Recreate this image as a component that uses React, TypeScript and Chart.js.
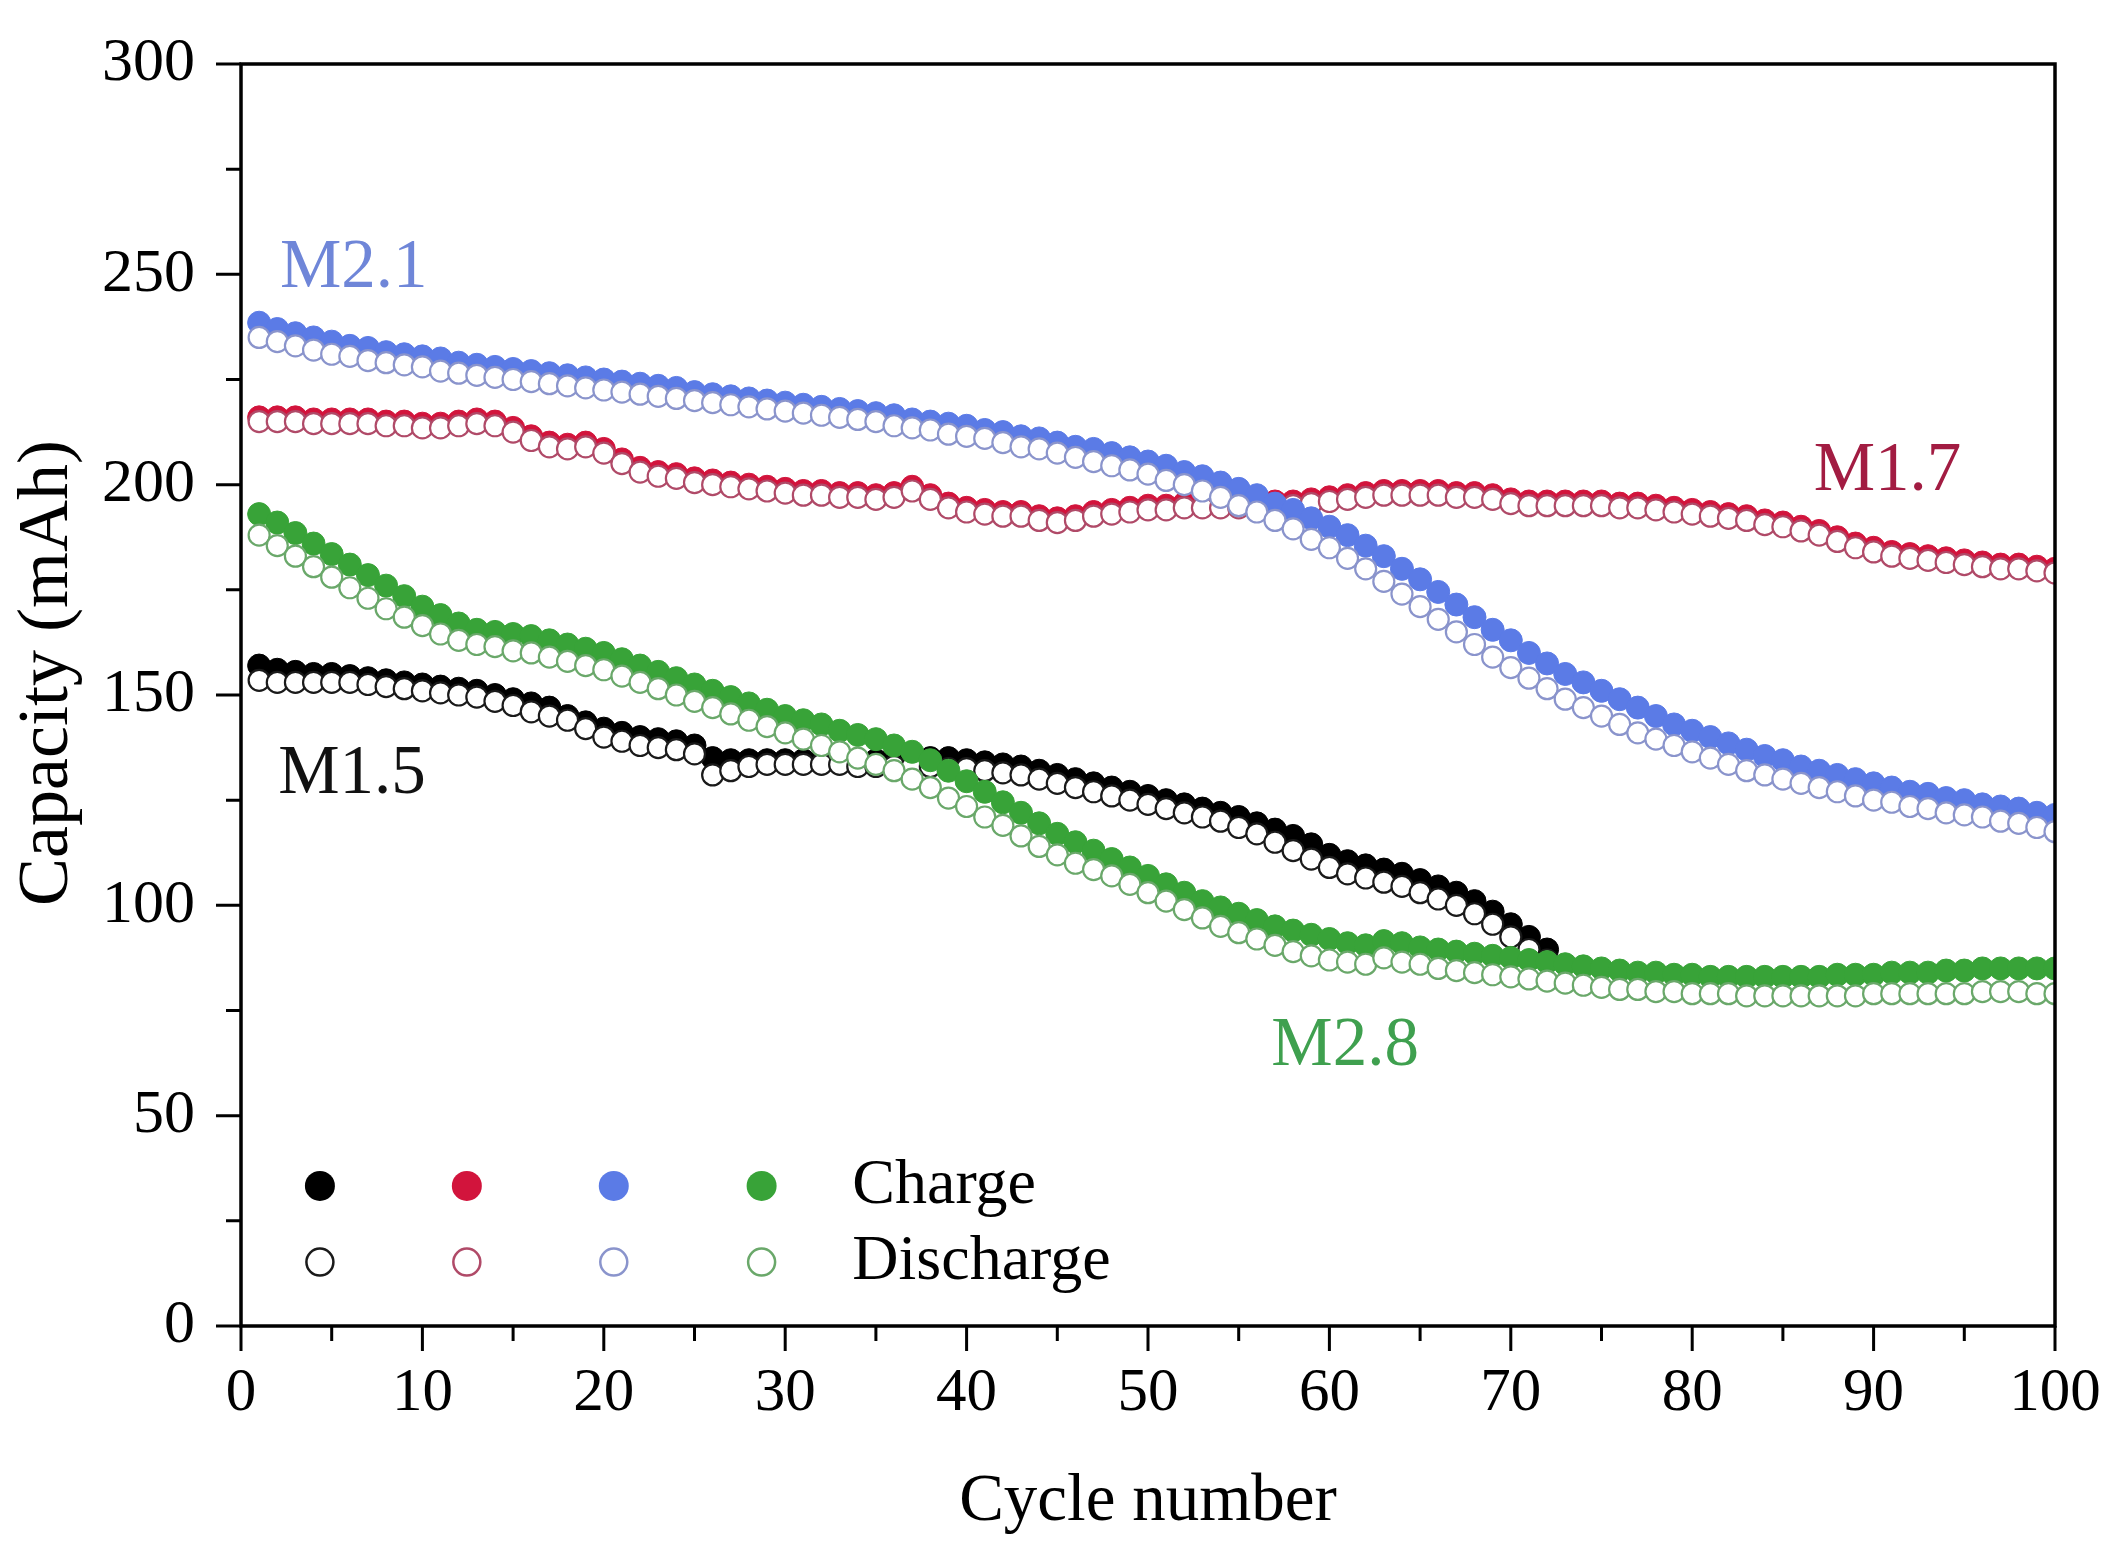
import React, { useEffect, useRef } from "react";
import { Chart, registerables } from "chart.js";
Chart.register(...registerables);

const FONT = "'Liberation Serif', 'Times New Roman', serif";

// cycle numbers 1..100
const cycles: number[] = Array.from({ length: 100 }, (_, i) => i + 1);

const m15Charge = [
  157, 156, 155.5, 155, 155, 154.5, 154, 153.5, 153, 152.5,
  152, 151.5, 151, 150, 149, 148, 147, 145, 143.5, 142,
  141, 140, 139.5, 139, 138, 135, 134.5, 134.5, 134.5, 134.5,
  134.5, 134.5, 134.5, 134.5, 134.5, 134.5, 135, 135, 135, 134.5,
  134, 133.5, 133, 132, 131, 130, 129, 128, 127, 126,
  125, 124, 123, 122, 121, 119.5, 118, 116.5, 114.5, 112,
  110.5, 109.5, 108.5, 107.5, 106, 104.5, 103, 101, 98.5, 95.5,
  92.5, 89.5,
];
const m15Discharge = [
  153.5, 153, 153, 153, 153, 153, 152.5, 152, 151.5, 151,
  150.5, 150, 149.5, 148.5, 147.5, 146, 145, 144, 142, 140,
  139, 138, 137.5, 137, 136, 131, 132, 133, 133.5, 133.5,
  133.5, 133.5, 133.5, 133, 133, 133, 133, 133, 132.5, 132.5,
  132, 131.5, 131, 130, 129, 128, 127, 126, 125, 124,
  123, 122, 121, 120, 118.5, 117, 115, 113, 111, 109,
  107.5, 106.5, 105.5, 104.5, 103, 101.5, 100, 98, 95.5, 92.5,
  89.5, 87,
];
const m17Charge = [
  216, 216, 216, 215.5, 215.5, 215.5, 215.5, 215, 215, 214.5,
  214.5, 215, 215.5, 215, 213.5, 211.5, 210, 209.5, 210, 208.5,
  206, 204, 203, 202.5, 201.5, 201, 200.5, 200, 199.5, 199,
  198.5, 198.5, 198, 198, 197.5, 198, 199.5, 197.5, 195.5, 194.5,
  194, 193.5, 193.5, 192.5, 192, 192.5, 193.5, 194, 194.5, 195,
  195, 195.5, 195.5, 195.5, 195.5, 195.5, 196, 196, 196.5, 197,
  197.5, 198, 198.5, 198.5, 198.5, 198.5, 198, 198, 197.5, 196.5,
  196, 196, 196, 196, 196, 195.5, 195.5, 195, 194.5, 194,
  193.5, 193, 192.5, 191.5, 191, 190, 189, 187.5, 186, 185,
  184, 183.5, 183, 182.5, 182, 181.5, 181, 181, 180.5, 180,
];
const m17Discharge = [
  215, 215, 215, 214.5, 214.5, 214.5, 214.5, 214, 214, 213.5,
  213.5, 214, 214.5, 214, 212.5, 210.5, 209, 208.5, 209, 207.5,
  205, 203, 202, 201.5, 200.5, 200, 199.5, 199, 198.5, 198,
  197.5, 197.5, 197, 197, 196.5, 197, 198.5, 196.5, 194.5, 193.5,
  193, 192.5, 192.5, 191.5, 191, 191.5, 192.5, 193, 193.5, 194,
  194, 194.5, 194.5, 194.5, 194.5, 194.5, 195, 195, 195.5, 196,
  196.5, 197, 197.5, 197.5, 197.5, 197.5, 197, 197, 196.5, 195.5,
  195, 195, 195, 195, 195, 194.5, 194.5, 194, 193.5, 193,
  192.5, 192, 191.5, 190.5, 190, 189, 188, 186.5, 185, 184,
  183, 182.5, 182, 181.5, 181, 180.5, 180, 180, 179.5, 179,
];
const m21Charge = [
  238.5, 237, 236, 235, 234, 233, 232.5, 231.5, 231, 230.5,
  230, 229, 228.5, 228, 227.5, 227, 226.5, 226, 225.5, 225,
  224.5, 224, 223.5, 223, 222, 221.5, 221, 220.5, 220, 219.5,
  219, 218.5, 218, 217.5, 217, 216.5, 215.5, 215, 214.5, 214,
  213, 212.5, 211.5, 211, 210, 209, 208.5, 207.5, 206.5, 205.5,
  204.5, 203, 202, 200.5, 199, 197.5, 195.5, 194, 192, 190,
  188, 185.5, 183, 180, 177.5, 174.5, 171.5, 168.5, 165.5, 163,
  160, 157.5, 155, 153, 151, 149, 147, 145, 143, 141.5,
  140, 138.5, 137, 135.5, 134.5, 133, 132, 131, 130, 129,
  128, 127, 126.5, 125.5, 125, 124, 123.5, 123, 122, 121.5,
];
const m21Discharge = [
  235, 234, 233, 232, 231, 230.5, 229.5, 229, 228.5, 228,
  227, 226.5, 226, 225.5, 225, 224.5, 224, 223.5, 223, 222.5,
  222, 221.5, 221, 220.5, 220, 219.5, 219, 218.5, 218, 217.5,
  217, 216.5, 216, 215.5, 215, 214, 213.5, 213, 212, 211.5,
  211, 210, 209, 208.5, 207.5, 206.5, 205.5, 204.5, 203.5, 202.5,
  201, 200, 198.5, 197, 195, 193.5, 191.5, 189.5, 187, 185,
  182.5, 180, 177, 174, 171, 168, 165, 162, 159, 156.5,
  154, 151.5, 149, 147, 145, 143, 141, 139.5, 138, 136.5,
  135, 133.5, 132, 131, 130, 129, 128, 127, 126, 125,
  124.5, 123.5, 123, 122, 121.5, 121, 120, 119.5, 118.5, 117.5,
];
const m28Charge = [
  193, 191, 188.5, 186, 183.5, 181, 178.5, 176, 173.5, 171,
  169, 167, 165.5, 165, 164.5, 164, 163, 162, 161, 160,
  158.5, 157, 155.5, 154, 152.5, 151, 149.5, 148, 146.5, 145,
  144, 143, 141.5, 140.5, 139.5, 138, 136.5, 134.5, 132, 129.5,
  127, 124.5, 122, 119.5, 117, 115, 113, 111, 109, 107,
  105, 103, 101, 99.5, 98, 96.5, 95, 94, 93, 92,
  91, 90.5, 91.5, 91, 90, 89.5, 89, 88.5, 88, 87.5,
  87, 86.5, 86, 85.5, 85, 84.5, 84, 84, 83.5, 83.5,
  83, 83, 83, 83, 83, 83, 83, 83.5, 83.5, 83.5,
  84, 84, 84, 84.5, 84.5, 85, 85, 85, 85, 85,
];
const m28Discharge = [
  188, 185.5, 183, 180.5, 178, 175.5, 173, 170.5, 168.5, 166.5,
  164.5, 163, 162, 161.5, 160.5, 160, 159, 158, 157, 156,
  154.5, 153, 151.5, 150, 148.5, 147, 145.5, 144, 142.5, 141,
  139.5, 138, 136.5, 135, 133.5, 132, 130, 128, 125.5, 123.5,
  121, 119, 116.5, 114, 112, 110, 108.5, 107, 105, 103,
  101, 99, 97, 95, 93.5, 92, 90.5, 89, 88, 87,
  86.5, 86, 87.5, 86.5, 86, 85, 84.5, 84, 83.5, 83,
  82.5, 82, 81.5, 81, 80.5, 80, 80, 79.5, 79.5, 79,
  79, 79, 78.5, 78.5, 78.5, 78.5, 78.5, 78.5, 78.5, 79,
  79, 79, 79, 79, 79, 79.5, 79.5, 79.5, 79, 79,
];

const xTicks = [0, 10, 20, 30, 40, 50, 60, 70, 80, 90, 100];
const yTicks = [0, 50, 100, 150, 200, 250, 300];

const COLORS = {
  black: "#000000",
  red: "#d2143c",
  blue: "#5b7be6",
  green: "#38a338",
};
const OPEN = {
  black: "#1a1a1a",
  red: "#b04a68",
  blue: "#8a94cc",
  green: "#6aa86a",
};

const annotations = [
  { text: "M2.1", x: 2.15, y: 247, color: "#6f86d8" },
  { text: "M1.7", x: 86.7, y: 198.8, color: "#a21c42" },
  { text: "M1.5", x: 2.05, y: 126.7, color: "#111111" },
  { text: "M2.8", x: 56.8, y: 62, color: "#3fa04f" },
];

const legendColumns = [
  { key: "black", x: 4.35 },
  { key: "red", x: 12.45 },
  { key: "blue", x: 20.55 },
  { key: "green", x: 28.7 },
];
const legendRows = [
  { label: "Charge", y: 33.3, filled: true },
  { label: "Discharge", y: 15.2, filled: false },
];
const legendTextX = 33.7;
const yTitle = { text: "Capacity (mAh)", x: 48, y: 673 };

function pts(arr: number[]) {
  return arr.map((v, i) => ({ x: cycles[i], y: v }));
}

const decorPlugin = {
  id: "decor",
  afterDraw(chart: any) {
    const { ctx, chartArea, scales } = chart;
    const xs = scales.x;
    const ys = scales.y;
    ctx.save();
    // frame
    ctx.strokeStyle = "#000";
    ctx.lineWidth = 3.5;
    ctx.strokeRect(chartArea.left, chartArea.top, chartArea.right - chartArea.left, chartArea.bottom - chartArea.top);
    // ticks
    ctx.lineWidth = 3;
    ctx.beginPath();
    for (let v = 0; v <= 100; v += 5) {
      const px = xs.getPixelForValue(v);
      const len = v % 10 === 0 ? 25 : 15;
      ctx.moveTo(px, chartArea.bottom);
      ctx.lineTo(px, chartArea.bottom + len);
    }
    for (let v = 0; v <= 300; v += 25) {
      const py = ys.getPixelForValue(v);
      const len = v % 50 === 0 ? 25 : 15;
      ctx.moveTo(chartArea.left, py);
      ctx.lineTo(chartArea.left - len, py);
    }
    ctx.stroke();
    // y title
    ctx.save();
    ctx.translate(yTitle.x, yTitle.y);
    ctx.rotate(-Math.PI / 2);
    ctx.fillStyle = "#000";
    ctx.font = `72px ${FONT}`;
    ctx.textAlign = "center";
    ctx.textBaseline = "middle";
    ctx.fillText(yTitle.text, 0, 0);
    ctx.restore();
    // annotations
    ctx.font = `69px ${FONT}`;
    ctx.textBaseline = "alphabetic";
    ctx.textAlign = "left";
    for (const a of annotations) {
      ctx.fillStyle = a.color;
      ctx.fillText(a.text, xs.getPixelForValue(a.x), ys.getPixelForValue(a.y));
    }
    // legend
    for (const row of legendRows) {
      const py = ys.getPixelForValue(row.y);
      for (const col of legendColumns) {
        const px = xs.getPixelForValue(col.x);
        ctx.beginPath();
        if (row.filled) {
          ctx.arc(px, py, 15, 0, Math.PI * 2);
          ctx.fillStyle = (COLORS as any)[col.key];
          ctx.fill();
        } else {
          ctx.arc(px, py, 13.5, 0, Math.PI * 2);
          ctx.fillStyle = "#fff";
          ctx.fill();
          ctx.lineWidth = 2.5;
          ctx.strokeStyle = (OPEN as any)[col.key];
          ctx.stroke();
        }
      }
      ctx.fillStyle = "#000";
      ctx.font = `64px ${FONT}`;
      ctx.textBaseline = "middle";
      ctx.fillText(row.label, xs.getPixelForValue(legendTextX), py);
    }
    ctx.restore();
  },
};

function chargeSet(label: string, data: number[], color: string, order: number) {
  return {
    label,
    data: pts(data),
    showLine: false,
    pointRadius: 11.5,
    pointBackgroundColor: color,
    pointBorderColor: color,
    pointBorderWidth: 1,
    order,
  };
}
function dischargeSet(label: string, data: number[], color: string, order: number) {
  return {
    label,
    data: pts(data),
    showLine: false,
    pointRadius: 10.5,
    pointBackgroundColor: "#ffffff",
    pointBorderColor: color,
    pointBorderWidth: 2.2,
    order,
  };
}

export default function App() {
  const ref = useRef<HTMLCanvasElement | null>(null);
  useEffect(() => {
    if (!ref.current) return;
    const chart = new Chart(ref.current, {
      type: "scatter",
      data: {
        datasets: [
          chargeSet("M1.7 Charge", m17Charge, COLORS.red, 8),
          dischargeSet("M1.7 Discharge", m17Discharge, OPEN.red, 7),
          chargeSet("M2.1 Charge", m21Charge, COLORS.blue, 6),
          dischargeSet("M2.1 Discharge", m21Discharge, OPEN.blue, 5),
          chargeSet("M1.5 Charge", m15Charge, COLORS.black, 4),
          dischargeSet("M1.5 Discharge", m15Discharge, OPEN.black, 3),
          chargeSet("M2.8 Charge", m28Charge, COLORS.green, 2),
          dischargeSet("M2.8 Discharge", m28Discharge, OPEN.green, 1),
        ] as any,
      },
      options: {
        animation: false,
        responsive: false,
        devicePixelRatio: 1,
        layout: { padding: { left: 0, top: 64, right: 68, bottom: 0 } },
        plugins: {
          legend: { display: false },
          tooltip: { enabled: false },
        },
        scales: {
          x: {
            type: "linear",
            min: 0,
            max: 100,
            afterBuildTicks: (s: any) => {
              s.ticks = xTicks.map((v) => ({ value: v }));
            },
            afterFit: (s: any) => {
              s.height = 229;
              s.paddingLeft = 0;
              s.paddingRight = 0;
            },
            ticks: {
              color: "#000",
              padding: 31,
              maxRotation: 0,
              autoSkip: false,
              font: { family: FONT, size: 61 },
            },
            grid: { display: false, drawTicks: false, tickLength: 0 },
            border: { display: false },
            title: {
              display: true,
              text: "Cycle number",
              color: "#000",
              font: { family: FONT, size: 67 },
              padding: { top: 0, bottom: 12 },
            },
          },
          y: {
            type: "linear",
            min: 0,
            max: 300,
            afterBuildTicks: (s: any) => {
              s.ticks = yTicks.map((v) => ({ value: v }));
            },
            afterFit: (s: any) => {
              s.width = 241;
              s.paddingTop = 0;
              s.paddingBottom = 0;
            },
            ticks: {
              color: "#000",
              padding: 46,
              autoSkip: false,
              font: { family: FONT, size: 62 },
            },
            grid: { display: false, drawTicks: false, tickLength: 0 },
            border: { display: false },
            title: { display: false },
          },
        },
      },
      plugins: [decorPlugin],
    });
    return () => chart.destroy();
  }, []);
  return (
    <div style={{ position: "fixed", left: 0, top: 0, width: 2123, height: 1555, background: "#fff" }}>
      <canvas ref={ref} width={2123} height={1555} style={{ display: "block", width: 2123, height: 1555 }} />
    </div>
  );
}
